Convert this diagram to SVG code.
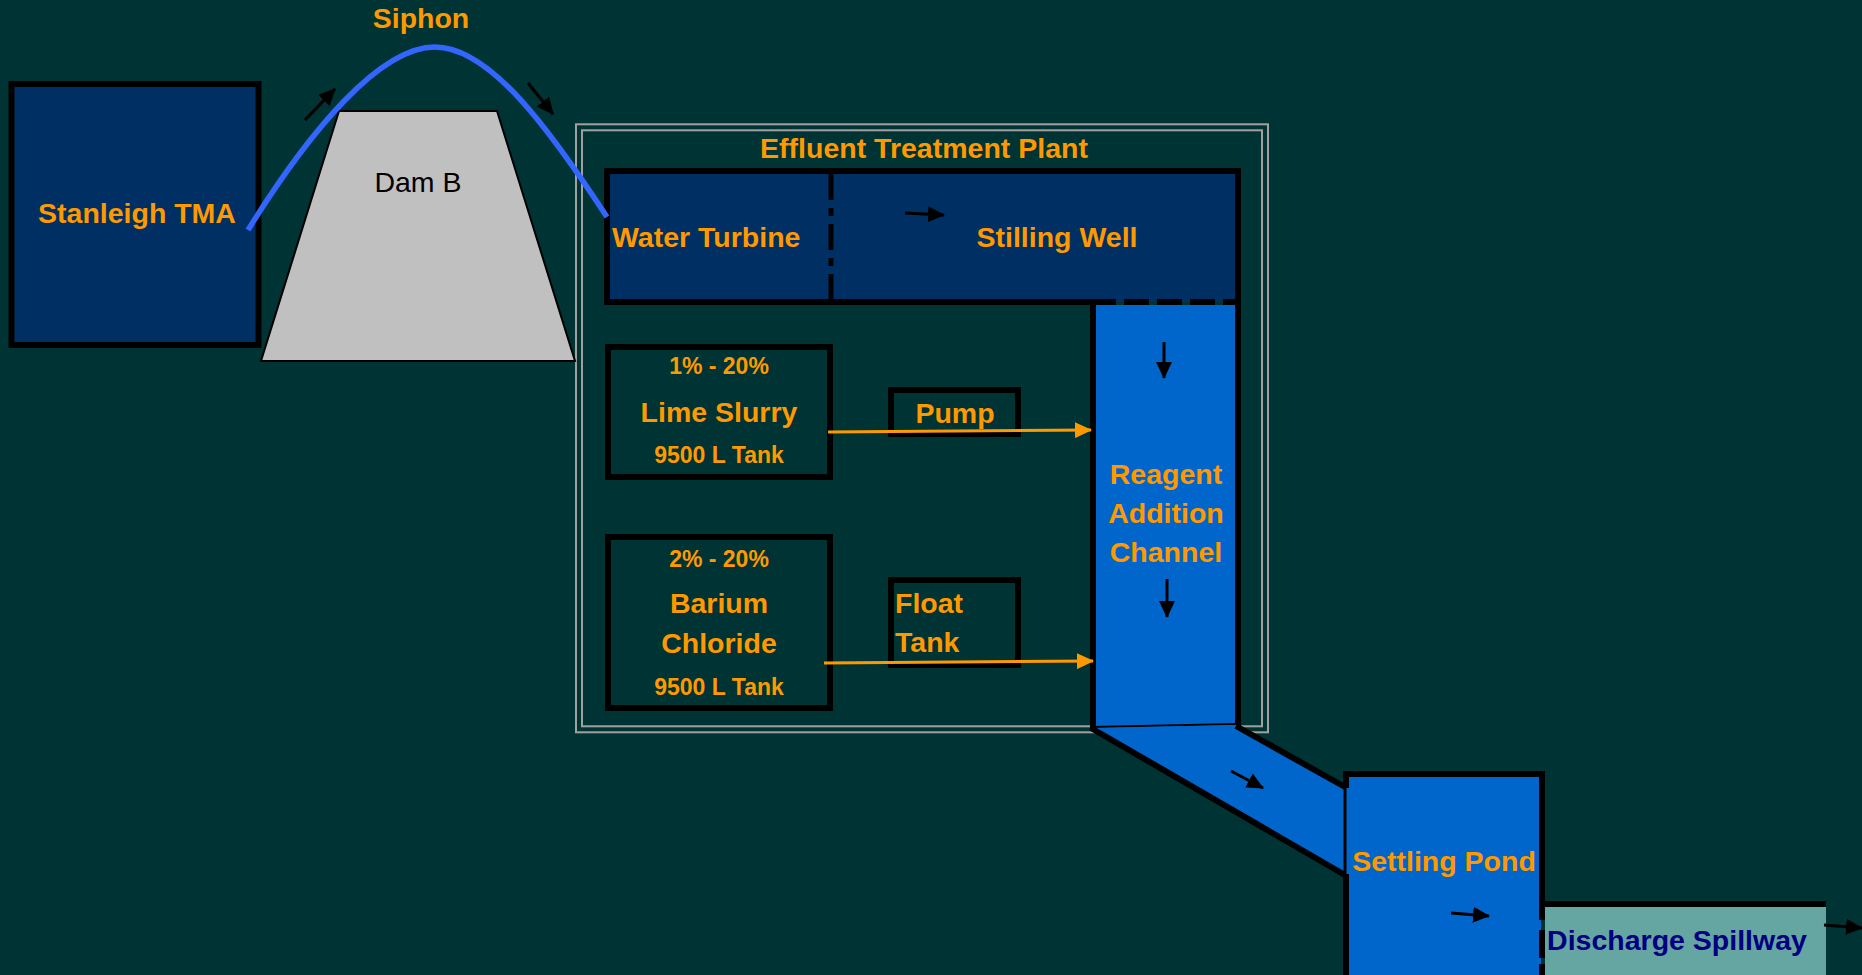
<svg xmlns="http://www.w3.org/2000/svg" width="1862" height="975" viewBox="0 0 1862 975">
  <defs>
    <style>
      .lbl { font-family: "Liberation Sans", Arial, sans-serif; font-weight: bold; fill: #FF9900; }
      .big { font-size: 28.5px; }
      .small { font-size: 23px; }
      .mid { text-anchor: middle; }
      .tank { fill: none; stroke: #000; stroke-width: 6; }
      .edge { stroke: #000; stroke-width: 6; fill: none; }
      .frame { fill: none; stroke: #A0A0A0; stroke-width: 2; }
      .flow { stroke: #000; stroke-width: 3; fill: none; marker-end: url(#headBlack); }
      .feed { stroke: #FF9900; stroke-width: 3; fill: none; marker-end: url(#headOrange); }
    </style>
    <marker id="headBlack" markerUnits="userSpaceOnUse" viewBox="0 0 17 16" refX="16" refY="8" markerWidth="17" markerHeight="16" orient="auto">
      <path d="M0,0 L17,8 L0,16 z" fill="#000"/>
    </marker>
    <marker id="headOrange" markerUnits="userSpaceOnUse" viewBox="0 0 17 16" refX="16" refY="8" markerWidth="17" markerHeight="16" orient="auto">
      <path d="M0,0 L17,8 L0,16 z" fill="#FF9900"/>
    </marker>
  </defs>

  <!-- background -->
  <rect x="0" y="0" width="1862" height="975" fill="#003333"/>

  <!-- treatment plant enclosure (double grey rule) -->
  <g id="plant">
    <rect class="frame" x="576" y="124.3" width="692" height="608"/>
    <rect class="frame" x="582" y="130.3" width="680" height="596"/>
    <text class="lbl big mid" x="924" y="158">Effluent Treatment Plant</text>
  </g>

  <g id="stanleigh">
    <rect x="11.5" y="84" width="247" height="261" fill="#003063" stroke="#000" stroke-width="6"/>
    <text class="lbl big mid" x="137" y="223">Stanleigh TMA</text>
  </g>

  <g id="dam">
    <polygon points="339,111 497,111 575,361 261,361" fill="#C0C0C0" stroke="#000" stroke-width="2"/>
    <text x="418" y="192" text-anchor="middle" font-family="'Liberation Sans', Arial, sans-serif" font-size="28.5" fill="#000">Dam B</text>
  </g>

  <g id="siphon-label">
    <text class="lbl big mid" x="421" y="28">Siphon</text>
  </g>

  <!-- turbine house and stilling well -->
  <g id="turbine-well">
    <rect x="607" y="171" width="631" height="131" fill="#003063"/>
    <line class="edge" x1="604" y1="171" x2="1241" y2="171"/>
    <line class="edge" x1="607" y1="168" x2="607" y2="305"/>
    <line class="edge" x1="604" y1="302" x2="1096" y2="302"/>
    <line x1="831" y1="174" x2="831" y2="299" stroke="#000" stroke-width="5" stroke-dasharray="26 8 8 8"/>
    <text class="lbl big" x="612" y="247">Water Turbine</text>
    <text class="lbl big mid" x="1057" y="247">Stilling Well</text>
  </g>

  <g id="reagent-channel">
    <rect x="1093" y="305" width="145" height="422" fill="#0066CC"/>
    <line x1="1096" y1="302" x2="1238" y2="302" stroke="#000" stroke-width="6" stroke-dasharray="20 8 25 8 25 8 25 8 25"/>
    <line class="edge" x1="1093" y1="302" x2="1093" y2="729"/>
    <line class="edge" x1="1238" y1="168" x2="1238" y2="728"/>
    <line x1="1092" y1="727" x2="1236" y2="724" stroke="#000" stroke-width="2"/>
    <text class="lbl big mid" x="1166" y="484">Reagent</text>
    <text class="lbl big mid" x="1166" y="523">Addition</text>
    <text class="lbl big mid" x="1166" y="562">Channel</text>
  </g>

  <g id="lime-slurry">
    <rect class="tank" x="608" y="347" width="222" height="130"/>
    <text class="lbl small mid" x="719" y="374">1% - 20%</text>
    <text class="lbl big mid" x="719" y="422">Lime Slurry</text>
    <text class="lbl small mid" x="719" y="463">9500 L Tank</text>
  </g>

  <g id="barium-chloride">
    <rect class="tank" x="608" y="537" width="222" height="171"/>
    <text class="lbl small mid" x="719" y="567">2% - 20%</text>
    <text class="lbl big mid" x="719" y="613">Barium</text>
    <text class="lbl big mid" x="719" y="653">Chloride</text>
    <text class="lbl small mid" x="719" y="695">9500 L Tank</text>
  </g>

  <g id="pump">
    <rect class="tank" x="891" y="390" width="127" height="44"/>
    <text class="lbl big mid" x="955" y="423">Pump</text>
  </g>

  <g id="float-tank">
    <rect class="tank" x="891" y="580" width="127" height="85"/>
    <text class="lbl big" x="895" y="613">Float</text>
    <text class="lbl big" x="895" y="652">Tank</text>
  </g>

  <!-- sloped outlet channel to the pond -->
  <g id="outlet-channel">
    <polygon points="1092,728 1236,725 1345,787 1345,875" fill="#0066CC"/>
    <line class="edge" x1="1091" y1="728" x2="1345" y2="875"/>
    <line class="edge" x1="1236" y1="726" x2="1345" y2="787"/>
  </g>

  <g id="settling-pond">
    <rect x="1346" y="774" width="195" height="206" fill="#0066CC"/>
    <line class="edge" x1="1343" y1="774" x2="1545" y2="774"/>
    <line class="edge" x1="1346" y1="771" x2="1346" y2="788"/>
    <line x1="1345" y1="786" x2="1345" y2="876" stroke="#000" stroke-width="3"/>
    <line class="edge" x1="1346" y1="874" x2="1346" y2="975"/>
    <line class="edge" x1="1542" y1="771" x2="1542" y2="920"/>
    <text class="lbl big mid" x="1444" y="871">Settling Pond</text>
  </g>

  <g id="discharge-spillway">
    <rect x="1545" y="907" width="281" height="70" fill="#66A6A2"/>
    <line class="edge" x1="1539" y1="904" x2="1826" y2="904"/>
    <line x1="1542" y1="920" x2="1542" y2="975" stroke="#000" stroke-width="6" stroke-dasharray="0 10 28 6 12"/>
    <text x="1677" y="950" text-anchor="middle" font-family="'Liberation Sans', Arial, sans-serif" font-weight="bold" font-size="28.5" fill="#000080">Discharge Spillway</text>
  </g>

  <!-- flow connectors -->
  <g id="connectors">
    <path d="M248,230 C310,130 380,47 435,47 C490,47 550,130 607,217" fill="none" stroke="#3366FF" stroke-width="5.5"/>
    <line class="flow" x1="305" y1="120" x2="335" y2="89"/>
    <line class="flow" x1="528" y1="83" x2="553" y2="114"/>
    <line class="flow" x1="905" y1="213" x2="944" y2="215"/>
    <line class="flow" x1="1164" y1="342" x2="1164" y2="378"/>
    <line class="flow" x1="1167" y1="579" x2="1167" y2="617"/>
    <line class="flow" x1="1231" y1="771" x2="1263" y2="788"/>
    <line class="flow" x1="1451" y1="913" x2="1489" y2="916"/>
    <line class="flow" x1="1824" y1="925" x2="1862" y2="928"/>
    <line class="feed" x1="828" y1="432" x2="1091" y2="430"/>
    <line class="feed" x1="824" y1="663" x2="1093" y2="661"/>
  </g>
</svg>
